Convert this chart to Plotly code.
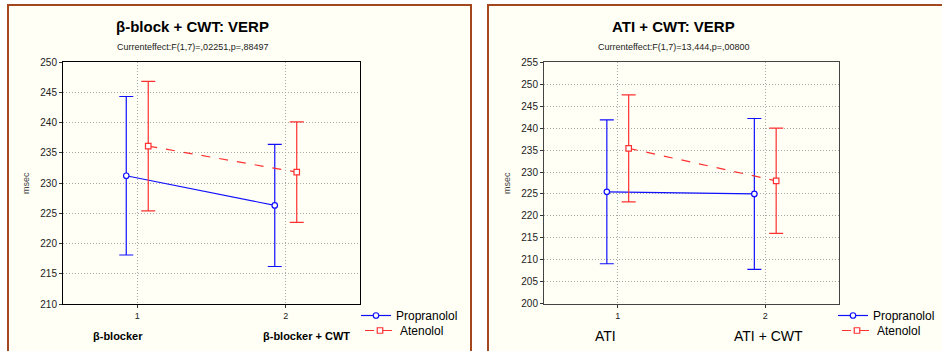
import plotly.graph_objects as go

# ---------------- data ----------------
categories = [1, 2]
tick_labels = ["1", "2"]
group_labels_left = ["β-blocker", "β-blocker + CWT"]
group_labels_right = ["ATI", "ATI + CWT"]
series_names = ["Propranolol", "Atenolol"]

left_prop_mean = [231.2, 226.3]
left_prop_err = [13.1, 10.1]
left_aten_mean = [236.1, 231.8]
left_aten_err = [10.7, 8.3]

right_prop_mean = [225.5, 225.0]
right_prop_err = [16.4, 17.2]
right_aten_mean = [235.4, 228.0]
right_aten_err = [12.2, 12.0]

left_title = "β-block + CWT: VERP"
left_sub = "Currenteffect:F(1,7)=,02251,p=,88497"
right_title = "ATI + CWT: VERP"
right_sub = "Currenteffect:F(1,7)=13,444,p=,00800"

# ---------------- layout helpers ----------------
W, H = 942, 351
def px(x):
    return x / W
def py(y):
    return 1 - y / H

FONT = "Arial, Liberation Sans, sans-serif"
BLUE = "#1010FF"
RED = "#FF3030"
CREAM = "#FFFFF6"
BROWN = "#A4471F"
OFF = 0.074

fig = go.Figure()

def add_series(xa, ya, mean, err, name, color, dash, symbol, sign, legend):
    fig.add_trace(go.Scatter(
        x=[c + sign * OFF for c in categories], y=mean, name=name,
        mode="lines+markers", xaxis=xa, yaxis=ya,
        line=dict(color=color, width=1.2, dash=dash),
        marker=dict(symbol=symbol, size=5.5, color="white", line=dict(color=color, width=1.2)),
        error_y=dict(type="data", array=err, visible=True, color=color, thickness=1.2, width=7),
        legend=legend, showlegend=True,
    ))

add_series("x", "y", left_prop_mean, left_prop_err, series_names[0], BLUE, "solid", "circle", -1, "legend")
add_series("x", "y", left_aten_mean, left_aten_err, series_names[1], RED, "dash", "square", 1, "legend2")
add_series("x2", "y2", right_prop_mean, right_prop_err, series_names[0], BLUE, "solid", "circle", -1, "legend3")
add_series("x2", "y2", right_aten_mean, right_aten_err, series_names[1], RED, "dash", "square", 1, "legend4")

axis_common = dict(
    showline=True, mirror=True, linewidth=1,
    showgrid=True, gridcolor="#A8A8A8", griddash="1px,2px", gridwidth=1,
    zeroline=False, ticks="outside", ticklen=3, tickcolor="#333",
    tickfont=dict(family=FONT, size=10, color="#222"),
)
xtick_font = dict(family=FONT, size=9, color="#222")

def leg(x, ytop):
    return dict(x=px(x), y=py(ytop), xanchor="left", yanchor="top", bgcolor="rgba(0,0,0,0)",
                font=dict(family=FONT, size=12, color="black"), tracegroupgap=0, itemwidth=30)

fig.update_layout(
    width=W, height=H, margin=dict(l=0, r=0, t=0, b=0, autoexpand=False),
    paper_bgcolor="white", plot_bgcolor=CREAM,
    xaxis=dict(domain=[px(63), px(360)], range=[0.5, 2.5], tickvals=categories, ticktext=tick_labels,
               anchor="y", linecolor="black", **{**axis_common, "tickfont": xtick_font}),
    yaxis=dict(domain=[py(304), py(62)], range=[210, 250], dtick=5, anchor="x", linecolor="black", **axis_common),
    xaxis2=dict(domain=[px(544), px(839)], range=[0.5, 2.5], tickvals=categories, ticktext=tick_labels,
                anchor="y2", linecolor="#444", **{**axis_common, "tickfont": xtick_font}),
    yaxis2=dict(domain=[py(303.7), py(62.3)], range=[200, 255], dtick=5, anchor="x2", linecolor="#444", **axis_common),
    legend=leg(356, 301),
    legend2=leg(360, 316),
    legend3=leg(833, 301),
    legend4=leg(837, 316),
    shapes=[
        dict(type="rect", xref="paper", yref="paper", x0=px(8), x1=px(471), y0=-0.1, y1=py(5),
             line=dict(color=BROWN, width=2), fillcolor=CREAM, layer="below"),
        dict(type="rect", xref="paper", yref="paper", x0=px(488), x1=1.1, y0=-0.1, y1=py(5),
             line=dict(color=BROWN, width=2), fillcolor=CREAM, layer="below"),
    ],
)

ann = []
def text(x, y, s, size, bold=False, color="black", xanchor="center", angle=0):
    ann.append(dict(x=px(x), y=py(y), xref="paper", yref="paper", text=f"<b>{s}</b>" if bold else s,
                    showarrow=False, xanchor=xanchor, yanchor="middle", textangle=angle,
                    font=dict(family=FONT, size=size, color=color)))

text(192, 26, left_title, 15, bold=True)
text(192, 47, left_sub, 9, color="#222")
text(673, 26, right_title, 15, bold=True)
text(673, 47, right_sub, 9, color="#222")
text(26, 183, "msec", 9, color="#444", angle=-90)
text(507, 183, "msec", 9, color="#444", angle=-90)
text(118, 336, group_labels_left[0], 11, bold=True)
text(306, 336, group_labels_left[1], 11, bold=True)
text(605, 336, group_labels_right[0], 14)
text(768, 336, group_labels_right[1], 14)
fig.update_layout(annotations=ann)

fig.write_html(
    "out.html",
    config={"displayModeBar": False},
    post_script="document.body.style.margin='0';document.body.style.overflow='hidden';",
)
